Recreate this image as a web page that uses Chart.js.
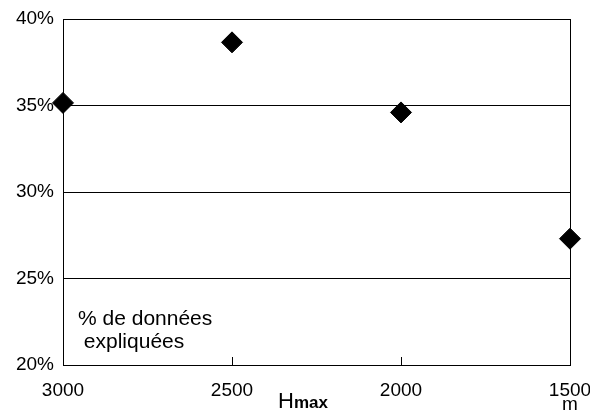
<!DOCTYPE html>
<html>
<head>
<meta charset="utf-8">
<script src="https://cdn.jsdelivr.net/npm/chart.js@4/dist/chart.umd.min.js"></script>
<style>
  html, body { margin: 0; padding: 0; background: #fff; }
  #wrap { width: 590px; height: 410px; }
</style>
</head>
<body>
<div id="wrap"><canvas id="chart"></canvas></div>
<script>
/* global Chart*/
'use strict';

var hmax = [3000, 2500, 2000, 1500];
var explained = [35.15, 38.65, 34.6, 27.3];
var yTicks = [20, 25, 30, 35, 40];
var noteLines = ['% de données', ' expliquées'];

var font = 'Liberation Sans, Arial, sans-serif';

// small ticks pointing into the plot, plus the axis captions
var extras = {
  id: 'extras',
  afterDraw: function (chart) {
    var c = chart.ctx;
    var area = chart.chartArea;
    var xs = chart.scales.x;
    c.save();
    c.strokeStyle = '#000';
    c.lineWidth = 1;
    xs.ticks.forEach(function (t) {
      if (t.value === xs.min || t.value === xs.max) return;
      var px = Math.round(xs.getPixelForValue(t.value)) + 0.5;
      c.beginPath();
      c.moveTo(px, area.bottom);
      c.lineTo(px, area.bottom - 8);
      c.stroke();
    });

    c.fillStyle = '#000';
    c.textBaseline = 'alphabetic';
    c.textAlign = 'left';
    c.font = '21px ' + font;
    c.fillText(noteLines[0], area.left + 15, 325);
    c.fillText(noteLines[1], area.left + 15, 348);

    c.font = '22px ' + font;
    c.fillText('H', 278, 408);
    var w = c.measureText('H').width;
    c.font = 'bold 17px ' + font;
    c.fillText('max', 278 + w, 408);

    c.textAlign = 'center';
    c.font = '19px ' + font;
    c.fillText('m', area.right, 410);
    c.restore();
  }
};

var ctx = document.getElementById('chart');
new Chart(ctx, {
  type: 'scatter',
  data: {
    datasets: [{
      data: hmax.map(function (h, i) { return { x: h, y: explained[i] }; }),
      pointStyle: 'rectRot',
      pointRadius: 10.5,
      pointHoverRadius: 10.5,
      backgroundColor: '#000',
      borderColor: '#000',
      borderWidth: 1,
      clip: false
    }]
  },
  options: {
    responsive: true,
    maintainAspectRatio: false,
    animation: false,
    events: [],
    layout: { padding: { left: 0, top: 19, right: 20, bottom: 0 } },
    plugins: {
      legend: { display: false },
      tooltip: { enabled: false }
    },
    scales: {
      x: {
        type: 'linear',
        reverse: true,
        min: 1500,
        max: 3000,
        ticks: {
          stepSize: 500,
          color: '#000',
          font: { family: font, size: 19 },
          padding: 14,
          maxRotation: 0,
          callback: function (v) { return String(v); }
        },
        grid: {
          drawTicks: false,
          color: function (c) {
            return c.tick && c.tick.value === 1500 ? '#000' : 'rgba(0,0,0,0)';
          },
          lineWidth: 1
        },
        border: { color: '#000', width: 1 },
        afterFit: function (s) {
          s.height = 45;
          s.paddingLeft = 0;
          s.paddingRight = 0;
        }
      },
      y: {
        min: yTicks[0],
        max: yTicks[yTicks.length - 1],
        afterBuildTicks: function (s) {
          s.ticks = yTicks.map(function (v) { return { value: v }; });
        },
        ticks: {
          color: '#000',
          font: { family: font, size: 19 },
          padding: 9,
          callback: function (v) { return v + '%'; }
        },
        grid: { drawTicks: false, color: '#000', lineWidth: 1 },
        border: { color: '#000', width: 1 },
        afterFit: function (s) {
          s.width = 63;
          s.paddingTop = 0;
          s.paddingBottom = 0;
        }
      }
    }
  },
  plugins: [extras]
});
</script>
</body>
</html>
